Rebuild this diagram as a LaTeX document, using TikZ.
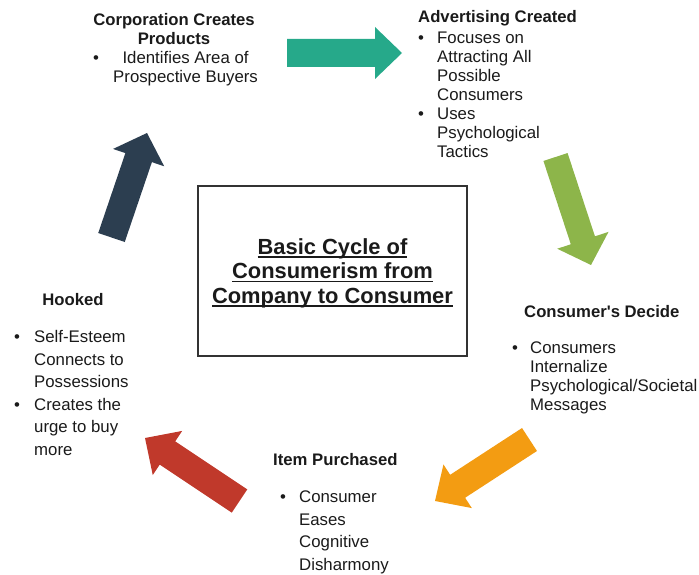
\documentclass[tikz,border=0pt]{standalone}
\usepackage{fontspec}
\setmainfont{Liberation Sans}
\usetikzlibrary{calc}
\definecolor{cteal}{RGB}{38,169,138}
\definecolor{cnavy}{RGB}{44,62,80}
\definecolor{colive}{RGB}{141,181,74}
\definecolor{corange}{RGB}{243,156,18}
\definecolor{cred}{RGB}{192,57,43}
\definecolor{ctext}{RGB}{26,26,26}
\definecolor{cbox}{RGB}{51,51,51}
% #1 colour, #2 tail, #3 tip, #4 shaft half width, #5 head half width, #6 head length
\newcommand\blockarrow[6]{%
  \coordinate (ba-h) at ($(#3)!#6!(#2)$);
  \fill[#1] ($(#2)!#4!90:(#3)$) -- ($(ba-h)!#4!90:(#3)$) -- ($(ba-h)!#5!90:(#3)$)
    -- (#3) -- ($(ba-h)!#5!-90:(#3)$) -- ($(ba-h)!#4!-90:(#3)$)
    -- ($(#2)!#4!-90:(#3)$) -- cycle;}
\newcommand\tul[1]{\setbox0\hbox{#1}\rlap{\rule[-3.2pt]{\wd0}{1.4pt}}\box0}
\tikzset{
  head/.style={font=\bfseries\fontsize{16.7}{19}\selectfont, inner sep=0pt, text=ctext},
  body/.style={font=\fontsize{16.8}{19}\selectfont, inner sep=0pt, text=ctext},
  bodywide/.style={font=\fontsize{16.8}{22.6}\selectfont, inner sep=0pt, text=ctext},
  titlebox/.style={draw=cbox, line width=1.2pt, minimum width=269pt, minimum height=170pt,
    inner sep=0pt, text=ctext},
  titletext/.style={inner sep=0pt, text=ctext, font=\bfseries\fontsize{21.9}{24.5}\selectfont},
}
\begin{document}
\begin{tikzpicture}[x=1pt,y=-1pt]
\useasboundingbox (0,0) rectangle (699,575);

% centre box
\node[titlebox] (box) at (332.5,271) {};
\node[titletext] (title) at (332.5,274) {\begin{tabular}{@{}c@{}}\tul{Basic Cycle of}\\ \tul{Consumerism from}\\ \tul{Company to Consumer}\end{tabular}};

% block arrows
\coordinate (tealS) at (287,53);     \coordinate (tealT) at (402,53);
\coordinate (oliveS) at (555.5,157); \coordinate (oliveT) at (591,265);
\coordinate (orangeS) at (529.5,439.5); \coordinate (orangeT) at (435,501);
\coordinate (redS) at (239.5,501);   \coordinate (redT) at (145,438);
\coordinate (navyS) at (111.5,237.5); \coordinate (navyT) at (147,133);
\blockarrow{cteal}{tealS}{tealT}{14pt}{26pt}{27pt}
\blockarrow{colive}{oliveS}{oliveT}{12.7pt}{27pt}{26pt}
\blockarrow{corange}{orangeS}{orangeT}{13.7pt}{26pt}{27pt}
\blockarrow{cred}{redS}{redT}{14pt}{26.5pt}{27pt}
\blockarrow{cnavy}{navyS}{navyT}{14pt}{27pt}{26pt}

% Corporation
\node[head, anchor=base] (corp) at (174,25.5) {\begin{tabular}[t]{@{}c@{}}Corporation Creates\\ Products\end{tabular}};
\node[body, anchor=base west] (corpl) at (93,63.5) {\begin{tabular}[t]{@{}p{20pt}@{}c@{}}\textbullet & Identifies Area of\\ & Prospective Buyers\end{tabular}};

% Advertising
\node[head, anchor=base west] (adv) at (418,22.5) {Advertising Created};
\node[body, anchor=base west] (advl) at (418,43.5) {\begin{tabular}[t]{@{}p{19pt}@{}l@{}}\textbullet & Focuses on\\ & Attracting All\\ & Possible\\ & Consumers\\ \textbullet & Uses\\ & Psychological\\ & Tactics\end{tabular}};

% Consumer's Decide
\node[head, anchor=base west] (dec) at (524,317.5) {Consumer\textquotesingle s Decide};
\node[body, anchor=base west] (decl) at (512,353.5) {\begin{tabular}[t]{@{}p{18pt}@{}l@{}}\textbullet & Consumers\\ & Internalize\\ & Psychological/Societal\\ & Messages\end{tabular}};

% Item Purchased
\node[head, anchor=base west] (item) at (273,465.5) {Item Purchased};
\node[bodywide, anchor=base west] (iteml) at (280,502.5) {\begin{tabular}[t]{@{}p{19pt}@{}l@{}}\textbullet & Consumer\\ & Eases\\ & Cognitive\\ & Disharmony\end{tabular}};

% Hooked
\node[head, anchor=base] (hook) at (73,305.5) {Hooked};
\node[bodywide, anchor=base west] (hookl) at (14,342.5) {\begin{tabular}[t]{@{}p{20pt}@{}l@{}}\textbullet & Self-Esteem\\ & Connects to\\ & Possessions\\ \textbullet & Creates the\\ & urge to buy\\ & more\end{tabular}};
\end{tikzpicture}
\end{document}
